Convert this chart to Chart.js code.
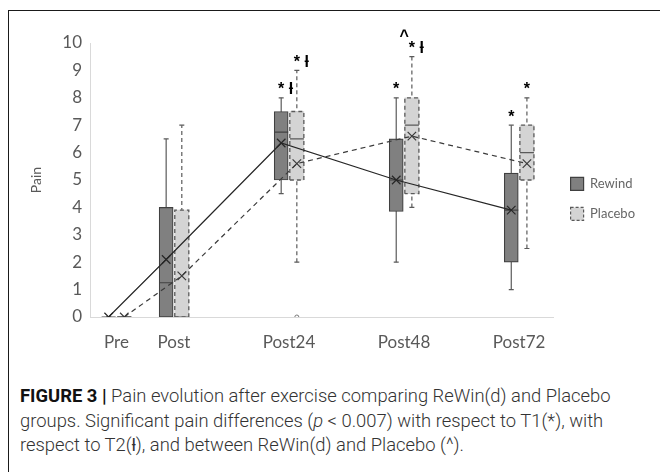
<!DOCTYPE html>
<html>
<head>
<meta charset="utf-8">
<script src="https://cdn.jsdelivr.net/npm/chart.js@4.4.1/dist/chart.umd.min.js"></script>
<style>
  body { margin: 0; background: #fff; width: 660px; height: 472px; overflow: hidden; position: relative; }
  #frame { position: absolute; left: 8px; top: 10px; width: 660px; height: 470px; border-top: 1.5px solid #1a1a1a; border-left: 1.5px solid #1a1a1a; }
  #chart1 { position: absolute; left: 9px; top: 12px; }
  #caption { position: absolute; left: 20px; top: 384px; width: 632px; font-family: Roboto, sans-serif; font-weight: 300; font-size: 18.4px; line-height: 24.5px; color: #333; }
  #caption b { font-weight: 700; color: #111; }
</style>
</head>
<body>
<div id="frame"></div>
<canvas id="chart1" width="651" height="355"></canvas>
<div id="caption"><b>FIGURE 3 |</b> Pain evolution after exercise comparing ReWin(d) and Placebo groups. Significant pain differences (<i>p</i> &lt; 0.007) with respect to T1(*), with respect to T2(ƚ), and between ReWin(d) and Placebo (^).</div>
<script>
const groups = ['Pre', 'Post', 'Post24', 'Post48', 'Post72'];
const groupX = [0, 0.5, 1.5, 2.5, 3.5];

const rewindMin    = [0, 0,    4.5,  2,    1];
const rewindQ1     = [0, 0,    5,    3.85, 2];
const rewindMedian = [0, 1.25, 6.75, 5,    3.9];
const rewindQ3     = [0, 4,    7.5,  6.5,  5.25];
const rewindMax    = [0, 6.5,  8,    8,    7];
const rewindMean   = [0, 2.1,  6.35, 5,    3.9];

const placeboMin    = [0, 0,   2,   4,   2.5];
const placeboQ1     = [0, 0,   5,   4.5, 5];
const placeboMedian = [0, 0,   6.5, 7,   6];
const placeboQ3     = [0, 3.9, 7.5, 8,   7];
const placeboMax    = [0, 7,   9,   9.5, 8];
const placeboMean   = [0, 1.5, 5.6, 6.6, 5.6];
const placeboOutliers = [[], [], [0], [], []];

const rewindMarks  = ['', '', '* ƚ', '*', '*'];
const placeboMarks = ['', '', '* ƚ', '* ƚ', '*'];
const groupMarks   = ['', '', '', '^', ''];

const OFF = 0.068;   // half distance between the two boxes of a group
const HALF = 0.061;  // half box width

const rewindColor = '#808080';
const rewindLine = '#404040';
const placeboColor = '#d4d4d4';
const placeboLine = '#5a5a5a';

function whiskers(mins, maxs, dx) {
  let pts = [];
  groupX.forEach((x, i) => {
    pts.push({x: x + dx, y: mins[i]}, {x: x + dx, y: maxs[i]}, {x: x + dx, y: null});
  });
  return pts;
}

function outline(q1, q3, dx) {
  let pts = [];
  groupX.forEach((x, i) => {
    const c = x + dx;
    pts.push({x: c - HALF, y: q1[i]}, {x: c - HALF, y: q3[i]}, {x: c + HALF, y: q3[i]},
             {x: c + HALF, y: q1[i]}, {x: c - HALF, y: q1[i]}, {x: c, y: null});
  });
  return pts;
}

const marksPlugin = {
  id: 'marks',
  afterDatasetsDraw(chart) {
    const ctx = chart.ctx;
    const xs = chart.scales.x;
    const ys = chart.scales.y;
    ctx.save();
    ctx.fillStyle = '#000';
    ctx.textBaseline = 'middle';
    ctx.textAlign = 'left';
    ctx.font = 'bold 16px "Liberation Sans"';
    const star = ctx.measureText('*').width;
    groups.forEach((g, i) => {
      let top = Infinity;
      [[rewindMarks, rewindMax, -OFF], [placeboMarks, placeboMax, OFF]].forEach(([marks, maxs, dx]) => {
        if (!marks[i]) return;
        const px = xs.getPixelForValue(groupX[i] + dx);
        const py = ys.getPixelForValue(maxs[i]) - 8;
        ctx.fillText(marks[i], px - star / 2, py);
        top = Math.min(top, py);
      });
      if (groupMarks[i]) {
        ctx.textAlign = 'center';
        ctx.fillText(groupMarks[i], xs.getPixelForValue(groupX[i]), top - 12);
        ctx.textAlign = 'left';
      }
    });
    ctx.restore();
  }
};

const chart1 = new Chart(document.getElementById('chart1'), {
  type: 'bar',
  data: {
    datasets: [
      {
        type: 'line', label: 'Rewind mean', order: 0,
        data: groupX.map((x, i) => ({x: x - OFF, y: rewindMean[i]})),
        borderColor: '#262626', borderWidth: 1.2,
        pointStyle: 'crossRot', pointRadius: 6, pointBorderColor: '#262626', pointBorderWidth: 1.2
      },
      {
        type: 'line', label: 'Placebo mean', order: 0,
        data: groupX.map((x, i) => ({x: x + OFF, y: placeboMean[i]})),
        borderColor: '#3a3a3a', borderWidth: 1.2, borderDash: [5, 4],
        pointStyle: 'crossRot', pointRadius: 6, pointBorderColor: '#3a3a3a', pointBorderWidth: 1.2
      },
      {
        type: 'scatter', label: 'Rewind median', order: 1,
        data: groupX.map((x, i) => ({x: x - OFF, y: rewindMedian[i]})),
        pointStyle: 'line', pointRadius: 7, borderColor: rewindLine, borderWidth: 1.2
      },
      {
        type: 'scatter', label: 'Placebo median', order: 1,
        data: groupX.map((x, i) => ({x: x + OFF, y: placeboMedian[i]})),
        pointStyle: 'line', pointRadius: 7, borderColor: placeboLine, borderWidth: 1.2
      },
      {
        type: 'line', label: 'Placebo box', order: 2,
        data: outline(placeboQ1, placeboQ3, OFF),
        borderColor: placeboLine, borderWidth: 1.3, borderDash: [4, 3], pointRadius: 0
      },
      {
        label: 'Rewind', order: 3, grouped: false,
        data: groupX.map((x, i) => ({x: x - OFF, y: [rewindQ1[i], rewindQ3[i]]})),
        backgroundColor: rewindColor, borderColor: rewindLine, borderWidth: 1.2,
        borderSkipped: false, barThickness: 14
      },
      {
        label: 'Placebo', order: 3, grouped: false,
        data: groupX.map((x, i) => ({x: x + OFF, y: [placeboQ1[i], placeboQ3[i]]})),
        backgroundColor: placeboColor, borderWidth: 0, barThickness: 14
      },
      {
        type: 'line', label: 'Rewind whisker', order: 4,
        data: whiskers(rewindMin, rewindMax, -OFF),
        borderColor: placeboLine, borderWidth: 1.2,
        pointStyle: 'line', pointRadius: 2.5, pointBorderColor: placeboLine, pointBorderWidth: 1.2
      },
      {
        type: 'line', label: 'Placebo whisker', order: 4,
        data: whiskers(placeboMin, placeboMax, OFF),
        borderColor: placeboLine, borderWidth: 1.2, borderDash: [4, 3],
        pointStyle: 'line', pointRadius: 2.5, pointBorderColor: placeboLine, pointBorderWidth: 1.2
      },
      {
        type: 'scatter', label: 'Placebo outlier', order: 4,
        data: groupX.flatMap((x, i) => placeboOutliers[i].map(v => ({x: x + OFF, y: v}))),
        pointStyle: 'circle', pointRadius: 2, borderColor: '#777', backgroundColor: '#fff', borderWidth: 1
      }
    ]
  },
  options: {
    responsive: false,
    animation: false,
    layout: { padding: { top: 31, right: 15, bottom: 0, left: 0 } },
    plugins: {
      tooltip: { enabled: false },
      legend: {
        position: 'right',
        align: 'start',
        title: { display: true, text: ' ', padding: { top: 103, bottom: 0 }, font: { size: 12 } },
        labels: {
          boxWidth: 13, boxHeight: 13, padding: 17,
          color: '#1a1a1a',
          font: { family: 'Lato', size: 13 },
          generateLabels: () => [
            { text: 'Rewind', fillStyle: rewindColor, strokeStyle: rewindLine, lineWidth: 1.2, hidden: false },
            { text: 'Placebo', fillStyle: placeboColor, strokeStyle: placeboLine, lineWidth: 1.2, lineDash: [3, 2], hidden: false }
          ]
        }
      }
    },
    scales: {
      x: {
        type: 'linear', min: -0.23, max: 3.80, offset: false,
        grid: { display: false, drawTicks: false },
        border: { display: true, color: '#d9d9d9', width: 1 },
        afterBuildTicks: scale => { scale.ticks = groupX.map(v => ({value: v})); },
        afterFit: scale => { scale.height = 50; },
        ticks: {
          autoSkip: false, maxRotation: 0, padding: 15,
          color: '#595959', font: { family: 'Lato', size: 17 },
          callback: v => groups[groupX.indexOf(v)]
        }
      },
      y: {
        min: 0, max: 10,
        grid: { display: false, drawTicks: false },
        border: { display: true, color: '#d9d9d9', width: 1 },
        afterFit: scale => { scale.width = 81; },
        ticks: { stepSize: 1, padding: 8, color: '#595959', font: { family: 'Lato', size: 17 } },
        title: { display: true, text: 'Pain', color: '#595959', font: { family: 'Lato', size: 14 }, padding: { top: 19, bottom: 0 } }
      }
    }
  },
  plugins: [marksPlugin]
});
</script>
</body>
</html>
